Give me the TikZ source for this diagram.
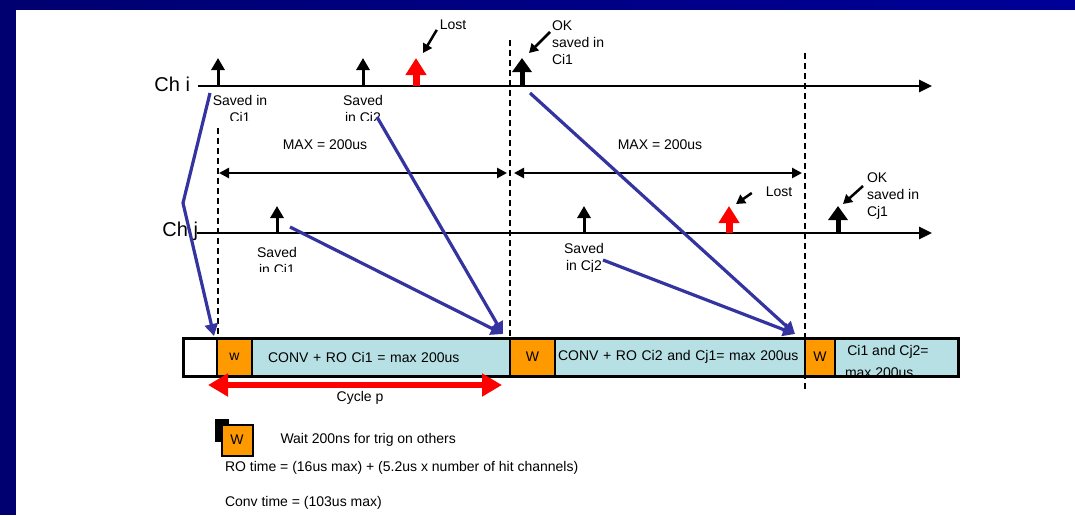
\documentclass[tikz,border=0pt]{standalone}
\usepackage{fontspec}
\setmainfont{Liberation Sans}
\usetikzlibrary{arrows.meta,calc,positioning}
\definecolor{slidenavy}{RGB}{0,0,112}
\definecolor{slidenavyR}{RGB}{0,0,152}
\definecolor{linkblue}{RGB}{52,52,160}
\definecolor{waitorange}{RGB}{255,153,0}
\definecolor{convcyan}{RGB}{183,224,228}
\definecolor{lostred}{RGB}{255,0,0}

\begin{document}
\begin{tikzpicture}[x=1pt,y=-1pt,
    font=\fontsize{14}{17}\selectfont,
    every node/.style={align=center,inner sep=0pt,outer sep=0pt},
    axis/.style={line width=2.8pt,-{Triangle[length=13pt,width=12pt]}},
    hit/.style={line width=3pt,-{Triangle[length=12pt,width=13pt]}},
    bighit/.style={line width=5pt,-{Triangle[length=14pt,width=19pt]}},
    losthit/.style={draw=lostred,line width=7pt,-{Triangle[length=17pt,width=20pt]}},
    pointer/.style={line width=2.5pt,-{Triangle[length=9pt,width=10pt]}},
    divider/.style={line width=2.2pt,dash pattern=on 6pt off 4pt},
    span/.style={line width=2.5pt,{Triangle[length=10pt,width=10pt]}-{Triangle[length=10pt,width=10pt]}},
    link/.style={draw=linkblue,line width=3.2pt,line join=round,-{Triangle[length=12pt,width=13pt]}},
    cyclearrow/.style={draw=lostred,line width=6pt,{Triangle[length=20pt,width=22pt]}-{Triangle[length=20pt,width=22pt]}},
    cell/.style={draw,line width=2pt,minimum height=38pt},
    waitcell/.style={cell,fill=waitorange},
    convcell/.style={cell,fill=convcyan}]
  \useasboundingbox (0,0) rectangle (1075,515);
  % slide frame
  \shade[left color=slidenavy,right color=slidenavyR] (0,0) rectangle (1075,9);
  \fill[slidenavy] (0,0) rectangle (16,515);

  % cycle boundaries
  \coordinate (divAt) at (218,128); \coordinate (divAb) at (218,338);
  \coordinate (divBt) at (510,40);  \coordinate (divBb) at (510,338);
  \coordinate (divCt) at (805,53);  \coordinate (divCb) at (805,390);
  \draw[divider] (divAt) -- (divAb);
  \draw[divider] (divBt) -- (divBb);
  \draw[divider] (divCt) -- (divCb);

  % channels
  \node[anchor=east,font=\fontsize{20}{24}\selectfont] (chi) at (190,84) {Ch i};
  \node[anchor=east,font=\fontsize{20}{24}\selectfont] (chj) at (198,231) {Ch j};
  \coordinate (chiEnd) at (932,86);
  \coordinate (chjEnd) at (932,233);
  \draw[axis] ([xshift=8pt]chi.east |- chiEnd) -- (chiEnd);
  \draw[axis] ([xshift=-1pt]chj.east |- chjEnd) -- (chjEnd);

  % 200us windows
  \coordinate (spanrow) at (0,173);
  \draw[span] ([xshift=1pt]divAt |- spanrow) -- ([xshift=-3pt]divBt |- spanrow);
  \draw[span] ([xshift=4pt]divBt |- spanrow) -- ([xshift=-3pt]divCt |- spanrow);
  \node (maxA) at (325,145) {MAX = 200us};
  \node (maxB) at (660,145) {MAX = 200us};

  % hits
  \foreach \hx/\hs/\hn in {218/hit/hi1,363/hit/hi2,416/losthit/hi3,522/bighit/hi4}
    {\coordinate (\hn) at (\hx,58); \draw[\hs] (\hx,86) -- (\hn);}
  \foreach \hx/\hs/\hn in {277/hit/hj1,584/hit/hj2,729/losthit/hj3,838/bighit/hj4}
    {\coordinate (\hn) at (\hx,206); \draw[\hs] (\hx,233) -- (\hn);}

  % hit labels
  \begin{scope}
    \clip (150,90) rectangle (450,120);
    \node (savI1) at (240,109) {Saved in\\Ci1};
    \node (savI2) at (363,109) {Saved\\in Ci2};
  \end{scope}
  \begin{scope}
    \clip (200,238) rectangle (650,271);
    \node (savJ1) at (277,261) {Saved\\in Ci1};
    \node (savJ2) at (584,258) {Saved\\in Cj2};
  \end{scope}
  \node (losti) at (453,25) {Lost};
  \node[anchor=north west,align=left] (oki) at (552,21) {OK\\saved in\\Ci1};
  \node (lostj) at (779,192) {Lost};
  \node[anchor=north west,align=left] (okj) at (867,173) {OK\\saved in\\Cj1};
  \draw[pointer] ($(losti.south west)+(-3,0)$) -- ($(hi3)+(7,-5)$);
  \draw[pointer] ($(oki.north west)+(-2,11)$) -- ($(hi4)+(7,-5)$);
  \draw[pointer] ($(lostj.west)+(-14,1)$) -- ($(hj3)+(7,-2)$);
  \draw[pointer] ($(okj.north west)+(-4,13)$) -- ($(hj4)+(5,-2)$);

  % conversion / readout bar
  \node[cell,minimum width=34pt] (blank) at (200,357) {};
  \node[waitcell,minimum width=35pt,right=0pt of blank] (w1) {w};
  \node[convcell,minimum width=258pt,text width=226pt,align=left,right=0pt of w1] (conv1) {CONV + RO Ci1 = max 200us};
  \node[waitcell,minimum width=45pt,right=0pt of conv1] (w2) {W};
  \node[convcell,minimum width=250pt,text width=244pt,align=left,right=0pt of w2] (conv2) {CONV + RO Ci2 and Cj1= max 200us};
  \node[waitcell,minimum width=30pt,right=0pt of conv2] (w3) {W};
  \node[convcell,minimum width=123pt,right=0pt of w3] (conv3) {};
  \begin{scope}
    \clip (conv3.north west) rectangle (conv3.south east);
    \node[anchor=north west,align=left,font=\fontsize{14}{22}\selectfont] (conv3txt) at ($(conv3.north west)+(10,7)$) {\,Ci1 and Cj2=\\max 200us};
  \end{scope}
  \draw[line width=3pt] (blank.north west) rectangle (conv3.south east);

  % transfers to readout
  \coordinate (fromI1) at (210,93);
  \coordinate (bendI1) at (183,203);
  \coordinate (fromI2) at (377,117);
  \coordinate (fromJ1) at ($(hj1)+(13,21)$);
  \coordinate (fromI4) at ($(hi4)+(8,35)$);
  \coordinate (fromJ2) at (603,260);
  \draw[link] (fromI1) -- (bendI1) -- ($(w1.north west)+(-3,-2)$);
  \draw[link] (fromI2) -- ($(conv1.north east)+(-7,-4)$);
  \draw[link] (fromJ1) -- ($(conv1.north east)+(-7,-4)$);
  \draw[link] (fromI4) -- ($(conv2.north east)+(-10,-4)$);
  \draw[link] (fromJ2) -- ($(conv2.north east)+(-10,-4)$);

  % cycle
  \coordinate (cycA) at ($(w1.south west)+(-9,9)$);
  \coordinate (cycB) at ($(conv1.south east)+(-8,9)$);
  \draw[cyclearrow] (cycA) -- (cycB);
  \node (cyclab) at (360,398) {Cycle p};

  % legend
  \fill (215,419) rectangle (229,442);
  \node[waitcell,minimum width=31pt,minimum height=31pt] (legw) at (237,440) {W};
  \node[anchor=west,right=28pt of legw] (legwait) {Wait 200ns for trig on others};
  \node[anchor=west] (legro) at (225,468) {RO time = (16us max) + (5.2us x number of hit channels)};
  \node[anchor=west] (legconv) at (225,503) {Conv time = (103us max)};
\end{tikzpicture}
\end{document}
